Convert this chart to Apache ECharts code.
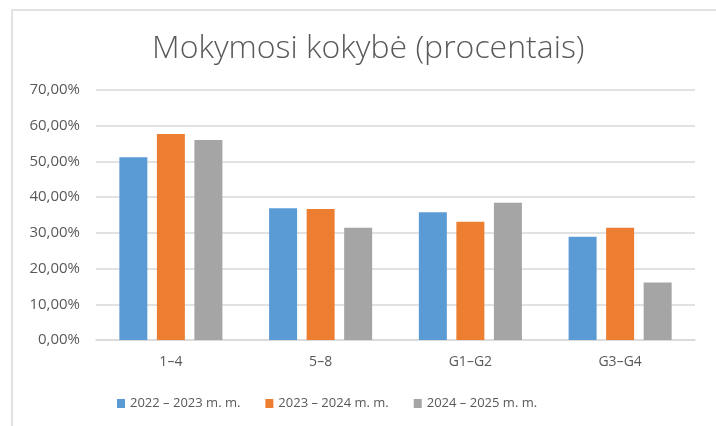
<!DOCTYPE html>
<html>
<head>
<meta charset="utf-8">
<script src="https://cdn.jsdelivr.net/npm/echarts@6/dist/echarts.min.js"></script>
<style>
  html, body { margin: 0; padding: 0; background: #fff; }
  #chart { width: 716px; height: 426px; }
</style>
</head>
<body>
<div id="chart"></div>
<script>
const categories = ['1–4', '5–8', 'G1–G2', 'G3–G4']
const seriesNames = ['2022 – 2023 m. m.', '2023 – 2024 m. m.', '2024 – 2025 m. m.']
const values2022 = [51.2, 36.9, 35.8, 28.9]
const values2023 = [57.7, 36.7, 33.1, 31.4]
const values2024 = [56.0, 31.4, 38.4, 16.1]
const colors = ['#5b9bd5', '#ed7d31', '#a5a5a5']

const chart = echarts.init(document.getElementById('chart'))
const font = 'Open Sans'

const makeSeries = (name, data, i) => ({
  name: name,
  type: 'bar',
  data: data,
  barWidth: 28,
  barGap: '34%',
  itemStyle: { color: colors[i] }
})

chart.setOption({
  animation: false,
  title: {
    text: 'Mokymosi kokybė (procentais)',
    left: 147,
    top: 28,
    textStyle: { fontFamily: font, fontWeight: 300, fontSize: 32, color: '#595959' }
  },
  graphic: [{
    type: 'rect',
    shape: { x: 12, y: 10, width: 720, height: 430 },
    style: { fill: 'none', stroke: '#d9d9d9', lineWidth: 1.5 },
    z: -1
  }],
  legend: {
    bottom: 11,
    left: 112,
    itemWidth: 8,
    itemHeight: 9,
    itemGap: 25,
    icon: 'rect',
    textStyle: { fontFamily: font, fontSize: 13, color: '#595959' },
    data: seriesNames
  },
  grid: { left: 96, right: 21, top: 90, bottom: 86 },
  xAxis: {
    type: 'category',
    data: categories,
    axisTick: { show: false },
    axisLine: { lineStyle: { color: '#d9d9d9', width: 1.5 } },
    axisLabel: { fontFamily: font, fontSize: 14, color: '#595959', margin: 15 }
  },
  yAxis: {
    type: 'value',
    min: 0,
    max: 70,
    interval: 10,
    axisLine: { show: false },
    axisTick: { show: false },
    splitLine: { lineStyle: { color: '#d9d9d9', width: 1.5 } },
    axisLabel: {
      fontFamily: font, fontSize: 15, color: '#595959', margin: 16,
      formatter: v => v.toFixed(2).replace('.', ',') + '%'
    }
  },
  series: [
    makeSeries(seriesNames[0], values2022, 0),
    makeSeries(seriesNames[1], values2023, 1),
    makeSeries(seriesNames[2], values2024, 2)
  ]
})
</script>
</body>
</html>
